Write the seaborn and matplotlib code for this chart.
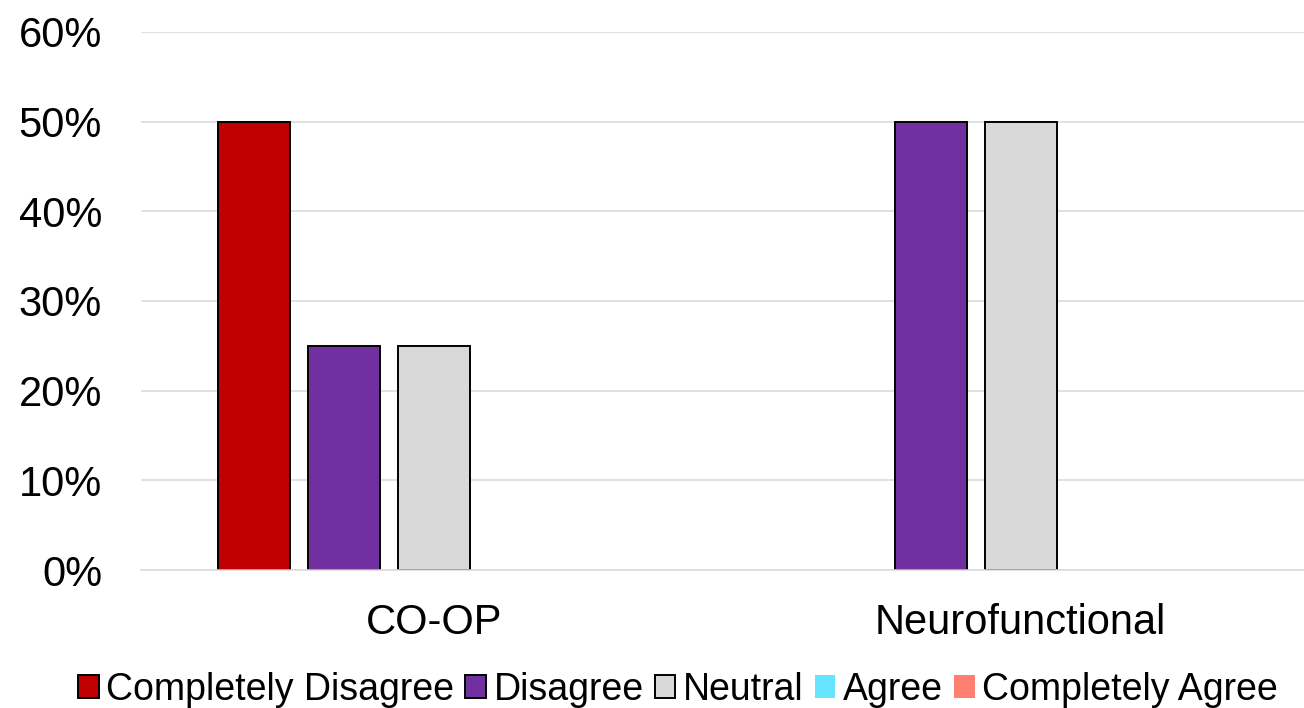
import matplotlib
matplotlib.use("Agg")
import matplotlib.pyplot as plt
from matplotlib.patches import Patch
from matplotlib.ticker import PercentFormatter
import seaborn as sns
import pandas as pd

# Survey responses per approach (share of respondents, %)
approaches = ["CO-OP", "Neurofunctional"]
responses = ["Completely Disagree", "Disagree", "Neutral", "Agree", "Completely Agree"]
coop_values = [50, 25, 25, 0, 0]
neuro_values = [0, 50, 50, 0, 0]
colors = ["#C00000", "#7030A0", "#D9D9D9", "#66E5FF", "#FF7F70"]
outlined = [True, True, True, False, False]

rows = []
for approach, vals in zip(approaches, [coop_values, neuro_values]):
    for resp, v in zip(responses, vals):
        rows.append({"approach": approach, "response": resp, "share": v})
df = pd.DataFrame(rows)

sns.set_theme(style="white")
plt.rcParams["font.family"] = ["Liberation Sans", "DejaVu Sans"]
plt.rcParams["text.color"] = "black"

fig = plt.figure(figsize=(13.04, 7.08), dpi=100)
ax = fig.add_axes([141 / 1304, 1 - 570 / 708, 1173 / 1304, 538 / 708])

sns.barplot(data=df, x="approach", y="share", hue="response",
            order=approaches, hue_order=responses, palette=colors,
            width=0.7666, gap=0.2, legend=False, ax=ax,
            edgecolor="black", linewidth=1.4, saturation=1, errorbar=None)

# Hide empty bars and drop outlines on the unused categories
for container, has_edge in zip(ax.containers, outlined):
    for bar in container:
        if bar.get_height() == 0:
            bar.set_visible(False)
        if not has_edge:
            bar.set_edgecolor("none")

ax.set_ylim(0, 60)
ax.set_yticks(range(0, 61, 10))
ax.yaxis.set_major_formatter(PercentFormatter(decimals=0))
ax.set_xlim(-0.5, 1.5)
ax.set_xlabel("")
ax.set_ylabel("")
ax.grid(axis="y", color="#D9D9D9", linewidth=1.1)
ax.set_axisbelow(True)
for side in ["top", "right", "left"]:
    ax.spines[side].set_visible(False)
ax.spines["bottom"].set_color("#D9D9D9")
ax.spines["bottom"].set_linewidth(1.1)
ax.tick_params(axis="y", length=0, pad=28, labelsize=30, colors="black")
ax.tick_params(axis="x", length=0, pad=24, labelsize=30, colors="black")

handles = [Patch(facecolor=c, edgecolor="black" if e else "none", linewidth=1.4)
           for c, e in zip(colors, outlined)]
fig.legend(handles, responses, loc="center", bbox_to_anchor=(678 / 1304, 1 - 690 / 708),
           ncol=5, frameon=False, fontsize=27, handlelength=0.55, handleheight=0.55,
           handletextpad=0.2, columnspacing=0.3, borderaxespad=0, borderpad=0,
           labelcolor="black")

fig.savefig("out.png", dpi=100)
